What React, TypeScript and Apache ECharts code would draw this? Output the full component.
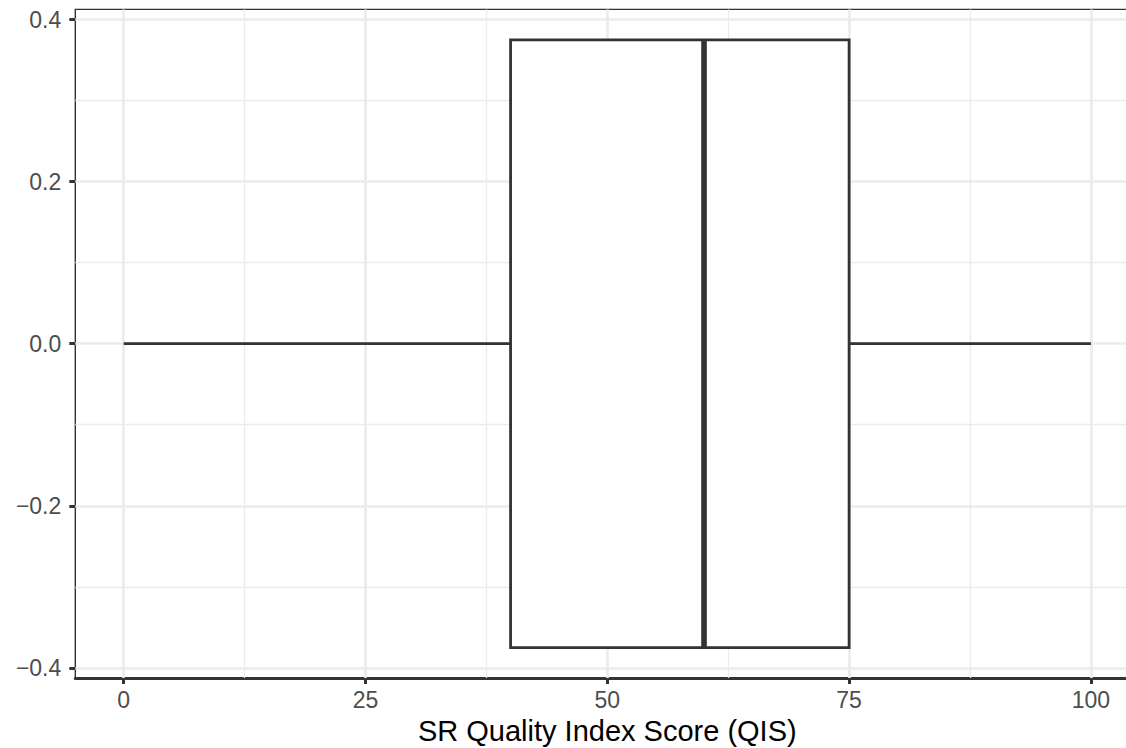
import React, { useEffect, useRef } from "react";
import * as echarts from "echarts";

// ---- data ----
const boxCenter = 0;
const boxStats = [0, 40, 60, 75, 100]; // min, Q1, median, Q3, max
const boxHalfWidth = 0.375;
const xTicks = [0, 25, 50, 75, 100];
const xMinor = [12.5, 37.5, 62.5, 87.5];
const yTicks = [-0.4, -0.2, 0, 0.2, 0.4];
const yMinor = [-0.3, -0.1, 0.1, 0.3];
const xTitle = "SR Quality Index Score (QIS)";

const FONT = "Liberation Sans, Arial, Helvetica, sans-serif";
const GRID = "#EBEBEB";
const INK = "#333333";

export default function App() {
  const ref = useRef<HTMLDivElement>(null);
  useEffect(() => {
    if (!ref.current) return;
    const chart = echarts.init(ref.current, null, { renderer: "svg" });
    const fmtY = (v: number) => {
      const s = Math.abs(v).toFixed(1);
      return v < -1e-9 ? "\u2212" + s : s;
    };
    const majorLineX = xTicks.map((v) => ({ xAxis: v, lineStyle: { color: GRID, width: 2.7, type: "solid" } }));
    const minorLineX = xMinor.map((v) => ({ xAxis: v, lineStyle: { color: GRID, width: 1.35, type: "solid" } }));
    const majorLineY = yTicks.map((v) => ({ yAxis: v, lineStyle: { color: GRID, width: 2.7, type: "solid" } }));
    const minorLineY = yMinor.map((v) => ({ yAxis: v, lineStyle: { color: GRID, width: 1.35, type: "solid" } }));

    chart.setOption({
      animation: false,
      backgroundColor: "#ffffff",
      grid: {
        left: 75.3,
        top: 9.4,
        width: 1064,
        height: 668.6,
        containLabel: false,
        outerBoundsMode: "none",
        show: true,
        backgroundColor: "#ffffff",
        borderColor: INK,
        borderWidth: 1.4,
        z: 0,
      },
      xAxis: {
        type: "value",
        min: -5,
        max: 105,
        splitLine: { show: false },
        axisLine: { show: true, onZero: false, lineStyle: { color: INK, width: 3 } },
        axisTick: { show: true, customValues: xTicks, length: 6, lineStyle: { color: INK, width: 3 } },
        axisLabel: {
          customValues: xTicks,
          color: "#4D4D4D",
          fontSize: 23,
          fontFamily: FONT,
          margin: 10,
        },
        name: xTitle,
        nameLocation: "middle",
        nameGap: 38,
        nameTextStyle: { color: "#000000", fontSize: 29, fontFamily: FONT },
      },
      yAxis: {
        type: "value",
        min: -0.4125,
        max: 0.4125,
        splitLine: { show: false },
        axisLine: { show: false, onZero: false },
        axisTick: { show: true, customValues: yTicks, length: 6, lineStyle: { color: INK, width: 3 } },
        axisLabel: {
          customValues: yTicks,
          formatter: (v: number) => fmtY(v),
          color: "#4D4D4D",
          fontSize: 23,
          fontFamily: FONT,
          margin: 14,
        },
      },
      series: [
        {
          type: "line",
          data: [],
          z: 1,
          silent: true,
          markLine: {
            silent: true,
            z: 1,
            symbol: "none",
            label: { show: false },
            data: [...minorLineX, ...minorLineY, ...majorLineX, ...majorLineY],
          },
        },
        {
          type: "custom",
          z: 10,
          silent: true,
          encode: { x: [1, 2, 3, 4, 5], y: 0 },
          data: [[boxCenter, ...boxStats]],
          renderItem: (params: any, api: any) => {
            const y = api.value(0);
            const lo = api.value(1);
            const q1 = api.value(2);
            const med = api.value(3);
            const q3 = api.value(4);
            const hi = api.value(5);
            const pLo = api.coord([lo, y]);
            const pQ1 = api.coord([q1, y]);
            const pQ3 = api.coord([q3, y]);
            const pHi = api.coord([hi, y]);
            const tl = api.coord([q1, y + boxHalfWidth]);
            const br = api.coord([q3, y - boxHalfWidth]);
            const mT = api.coord([med, y + boxHalfWidth]);
            const mB = api.coord([med, y - boxHalfWidth]);
            const lw = 2.8;
            return {
              type: "group",
              children: [
                { type: "line", shape: { x1: pLo[0], y1: pLo[1], x2: pQ1[0], y2: pQ1[1] }, style: { stroke: INK, lineWidth: lw } },
                { type: "line", shape: { x1: pQ3[0], y1: pQ3[1], x2: pHi[0], y2: pHi[1] }, style: { stroke: INK, lineWidth: lw } },
                {
                  type: "rect",
                  shape: { x: tl[0], y: tl[1], width: br[0] - tl[0], height: br[1] - tl[1] },
                  style: { fill: "#ffffff", stroke: INK, lineWidth: lw },
                },
                { type: "line", shape: { x1: mT[0], y1: mT[1], x2: mB[0], y2: mB[1] }, style: { stroke: INK, lineWidth: 5.6 } },
              ],
            };
          },
        },
      ],
    });
    return () => chart.dispose();
  }, []);
  return <div ref={ref} style={{ width: 1126, height: 748, position: "absolute", left: 0, top: 0 }} />;
}
